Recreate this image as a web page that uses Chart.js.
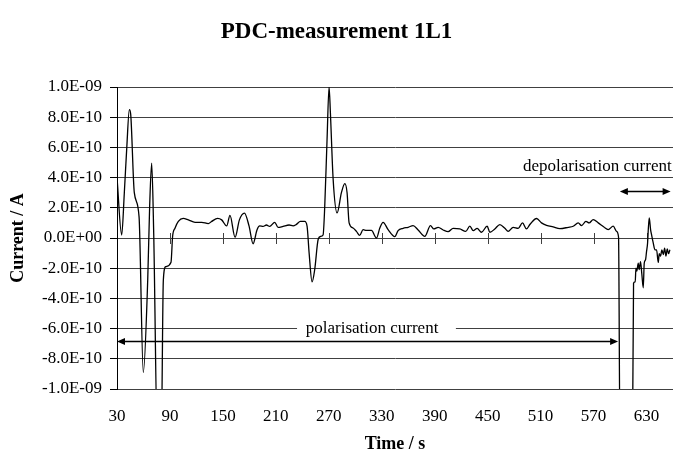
<!DOCTYPE html>
<html>
<head>
<meta charset="utf-8">
<title>PDC-measurement 1L1</title>
<script src="https://cdn.jsdelivr.net/npm/chart.js@4.4.1/dist/chart.umd.min.js"></script>
<style>
  html, body { margin: 0; padding: 0; background: #fff; }
  #wrap { width: 673px; height: 459px; }
</style>
</head>
<body>
<div id="wrap"><canvas id="pdcChart" width="673" height="459"></canvas></div>
<script>
// time (s) and current (A)
const timeS = [
  30, 35.3, 38.3, 41, 44, 45.5, 49.6, 55, 59.8, 64.8,
  67, 69.3, 71.6, 76, 80, 82.5, 85.2, 91.2, 93, 95.7,
  99.5, 105, 110.9, 118.4, 126, 133.5, 137.3, 144, 148.6, 154.3,
  158, 163.8, 168.7, 174.4, 179.6, 184.2, 188.7, 191.7, 195.5, 199.3,
  203, 208.7, 212.5, 218.2, 225, 229.5, 233.3, 237.8, 242.7, 245.4,
  247.7, 251, 254, 257.9, 260.5, 263.5, 265.4, 268, 270.3, 271.8,
  274.9, 279.4, 284.3, 288.1, 290.7, 293, 297.5, 301.3, 305, 308.9,
  312.6, 318.3, 324, 327.8, 331.5, 337.2, 344.8, 348.5, 354.2, 359.9,
  365.5, 371.2, 378.8, 385.2, 389, 393.9, 399.6, 405.2, 410.9, 418.4,
  425.2, 429.8, 433.6, 438.1, 443, 449.4, 452.5, 458.1, 463.8, 469.5,
  473.2, 478.9, 484.6, 489.5, 494, 497.8, 505.4, 511, 516.7, 524.2,
  531.8, 541.3, 546.9, 552.6, 556.4, 561.3, 565, 569.6, 575.3, 581.7,
  586.6, 592.3, 596, 598.3, 600, 614, 615.3, 617.2, 618, 619,
  620.6, 621.7, 623.2, 624.7, 626.3, 627.4, 628.9, 630, 631.2, 632,
  633.1, 634.6, 635.7, 637.6, 639.5, 641.4, 643.3, 644.4, 645.9, 647.4,
  649, 650.5, 652, 653.5, 655, 656.5
];
const currentA = [
  4.0e-10, 0.2e-10, 3.0e-10, 5.9e-10, 8.5e-10, 8.2e-10, 3.0e-10, 1.4e-10, -8.9e-10, -2.8e-10,
  2.1e-10, 4.95e-10, 0.3e-10, -14e-10, -14e-10, -2.8e-10, -1.9e-10, -1.6e-10, 0.1e-10, 0.65e-10,
  1.1e-10, 1.3e-10, 1.2e-10, 1.04e-10, 1.04e-10, 0.95e-10, 1.1e-10, 1.3e-10, 1.2e-10, 0.8e-10,
  1.5e-10, 0.05e-10, 1.2e-10, 1.65e-10, 0.8e-10, -0.38e-10, 0.55e-10, 0.8e-10, 0.77e-10, 0.86e-10,
  0.77e-10, 1.04e-10, 0.7e-10, 0.77e-10, 0.86e-10, 0.8e-10, 0.9e-10, 1.1e-10, 1.1e-10, 0.77e-10,
  -1.0e-10, -2.9e-10, -2.1e-10, -0.1e-10, 0.1e-10, 0.2e-10, 2.1e-10, 6.5e-10, 10.0e-10, 8.3e-10,
  3.9e-10, 1.66e-10, 3.0e-10, 3.6e-10, 3.0e-10, 1.0e-10, 0.66e-10, 0.44e-10, 0.18e-10, 0.55e-10,
  0.5e-10, 0.5e-10, 0.0, 0.66e-10, 1.04e-10, 0.55e-10, 0.09e-10, 0.49e-10, 0.64e-10, 0.71e-10,
  0.82e-10, 0.53e-10, 0.11e-10, 0.82e-10, 0.6e-10, 0.71e-10, 0.53e-10, 0.42e-10, 0.64e-10, 0.6e-10,
  0.44e-10, 0.78e-10, 0.49e-10, 0.64e-10, 0.38e-10, 0.78e-10, 0.38e-10, 0.6e-10, 0.89e-10, 0.64e-10,
  0.44e-10, 0.71e-10, 0.64e-10, 1.0e-10, 0.6e-10, 0.89e-10, 1.29e-10, 1.0e-10, 0.84e-10, 0.73e-10,
  0.62e-10, 0.71e-10, 0.78e-10, 1.0e-10, 0.82e-10, 1.1e-10, 1.0e-10, 1.22e-10, 1.0e-10, 0.73e-10,
  0.56e-10, 0.78e-10, 0.44e-10, 0.05e-10, -14e-10, -14e-10, -3.0e-10, -2.9e-10, -2.0e-10, -2.2e-10,
  -1.67e-10, -2.1e-10, -1.56e-10, -2.4e-10, -3.3e-10, -1.67e-10, -1.44e-10, -0.9e-10, -0.33e-10, 0.56e-10,
  1.33e-10, 0.56e-10, 0.22e-10, -0.33e-10, -0.78e-10, -0.78e-10, -1.62e-10, -1.04e-10, -1.2e-10, -0.78e-10,
  -1.1e-10, -0.67e-10, -1.2e-10, -0.73e-10, -1.04e-10, -0.78e-10
];

const xTickValues = [30, 90, 150, 210, 270, 330, 390, 450, 510, 570, 630];
const yTickValues = [-1e-9, -8e-10, -6e-10, -4e-10, -2e-10, 0, 2e-10, 4e-10, 6e-10, 8e-10, 1e-9];

// annotations, in data units
const polLabel = { text: 'polarisation current', t: 319, y: -6e-10, boxFrom: 234, boxTo: 414 };
const polArrow = { from: 30, to: 597.8, y: -6.83e-10 };
const depolLabel = { text: 'depolarisation current', t: 658.5, y: 4.72e-10 };
const depolArrow = { from: 599.8, to: 657.3, y: 3.13e-10 };

const serif = 'Liberation Serif, Times New Roman, serif';

function sciLabel(v) {
  if (v === 0) return '0.0E+00';
  const parts = v.toExponential(1).split('e');
  const n = parseInt(parts[1], 10);
  return parts[0] + 'E' + (n < 0 ? '-' : '+') + String(Math.abs(n)).padStart(2, '0');
}

function arrowHead(ctx, x, y, dir) {
  ctx.beginPath();
  ctx.moveTo(x, y);
  ctx.lineTo(x - dir * 8, y - 3.5);
  ctx.lineTo(x - dir * 8, y + 3.5);
  ctx.closePath();
  ctx.fill();
}

function drawArrow(ctx, x1, x2, y) {
  ctx.beginPath();
  ctx.moveTo(x1 + 4, y);
  ctx.lineTo(x2 - 4, y);
  ctx.stroke();
  arrowHead(ctx, x2, y, 1);
  arrowHead(ctx, x1, y, -1);
}

const pdcMarks = {
  id: 'pdcMarks',
  beforeDatasetsDraw(chart) {
    const { ctx, scales: { x, y } } = chart;
    // small ticks across the zero line, where the category axis sits
    const y0 = Math.round(y.getPixelForValue(0));
    ctx.save();
    ctx.strokeStyle = '#404040';
    ctx.lineWidth = 1;
    xTickValues.slice(1).forEach(t => {
      const px = Math.round(x.getPixelForValue(t)) + 0.5;
      ctx.beginPath();
      ctx.moveTo(px, y0 - 5);
      ctx.lineTo(px, y0 + 6);
      ctx.stroke();
    });
    ctx.restore();
  },
  afterDatasetsDraw(chart) {
    const { ctx, scales: { x, y } } = chart;
    ctx.save();
    ctx.font = '17px ' + serif;
    ctx.fillStyle = '#000';
    ctx.strokeStyle = '#000';
    ctx.lineWidth = 1.5;

    // polarisation label sits on a white box over the gridline
    const py = y.getPixelForValue(polLabel.y);
    ctx.fillStyle = '#fff';
    ctx.fillRect(x.getPixelForValue(polLabel.boxFrom), py - 9, x.getPixelForValue(polLabel.boxTo) - x.getPixelForValue(polLabel.boxFrom), 18);
    ctx.fillStyle = '#000';
    ctx.textAlign = 'center';
    ctx.textBaseline = 'middle';
    ctx.fillText(polLabel.text, x.getPixelForValue(polLabel.t), py);
    drawArrow(ctx, x.getPixelForValue(polArrow.from), x.getPixelForValue(polArrow.to), Math.round(y.getPixelForValue(polArrow.y)) + 0.5);

    ctx.textAlign = 'right';
    ctx.fillText(depolLabel.text, x.getPixelForValue(depolLabel.t), y.getPixelForValue(depolLabel.y));
    drawArrow(ctx, x.getPixelForValue(depolArrow.from), x.getPixelForValue(depolArrow.to), Math.round(y.getPixelForValue(depolArrow.y)) + 0.5);
    ctx.restore();
  }
};

const ctx = document.getElementById('pdcChart').getContext('2d');
const chart = new Chart(ctx, {
  type: 'line',
  data: {
    datasets: [{
      label: 'Current',
      data: timeS.map((t, i) => ({ x: t, y: currentA[i] })),
      borderColor: '#000',
      borderWidth: 1.3,
      pointRadius: 0,
      fill: false,
      cubicInterpolationMode: 'monotone'
    }]
  },
  options: {
    responsive: false,
    devicePixelRatio: 1,
    animation: false,
    layout: { padding: 0 },
    scales: {
      x: {
        type: 'linear',
        min: 30,
        max: 660,
        afterBuildTicks: s => { s.ticks = xTickValues.map(v => ({ value: v })); },
        afterFit: s => { s.height = 70; s.paddingLeft = 0; s.paddingRight = 0; },
        grid: { display: false, drawTicks: false },
        border: { display: false },
        ticks: {
          color: '#000',
          font: { family: serif, size: 17 },
          padding: 17,
          maxRotation: 0,
          autoSkip: false,
          callback: v => String(v)
        },
        title: {
          display: true,
          text: 'Time / s',
          color: '#000',
          font: { family: serif, size: 18, weight: 'bold' },
          padding: { top: 0, bottom: 4 }
        }
      },
      y: {
        min: -1e-9,
        max: 1e-9,
        afterBuildTicks: s => { s.ticks = yTickValues.map(v => ({ value: v })); },
        afterFit: s => { s.width = 117; },
        grid: { color: '#404040', tickColor: '#000', tickLength: 7, lineWidth: 1 },
        border: { display: true, color: '#000', width: 1 },
        ticks: {
          color: '#000',
          font: { family: serif, size: 17 },
          padding: 8,
          autoSkip: false,
          callback: v => sciLabel(v)
        },
        title: {
          display: true,
          text: 'Current / A',
          color: '#000',
          font: { family: serif, size: 18, weight: 'bold' },
          padding: { top: 8, bottom: 0 }
        }
      }
    },
    plugins: {
      legend: { display: false },
      tooltip: { enabled: false },
      title: {
        display: true,
        text: 'PDC-measurement 1L1',
        color: '#000',
        font: { family: serif, size: 23, weight: 'bold' },
        padding: { top: 18, bottom: 41.4 }
      }
    }
  },
  plugins: [pdcMarks]
});
</script>
</body>
</html>
